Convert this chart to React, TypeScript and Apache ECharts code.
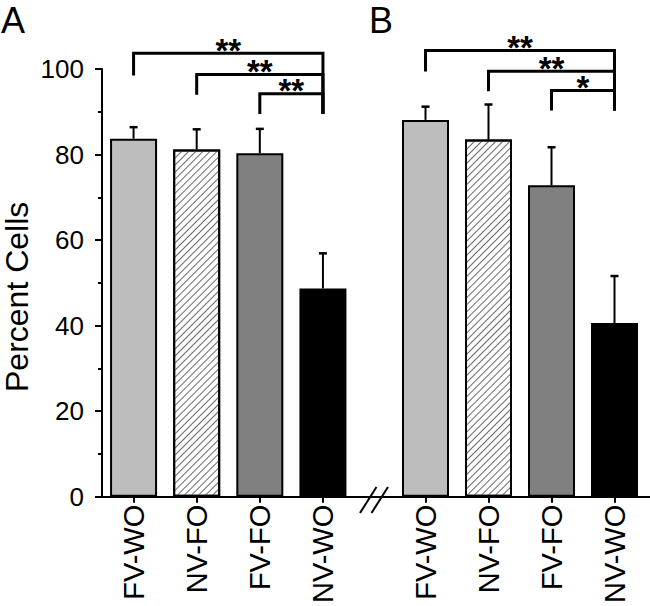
import React, { useEffect, useRef } from "react";
import * as echarts from "echarts";

const categories = ["FV-WO", "NV-FO", "FV-FO", "NV-WO"];
const valuesA = [83.7, 81.2, 80.3, 48.7];
const errorsA = [2.7, 4.7, 5.7, 8.2];
const valuesB = [88.1, 83.5, 72.8, 40.6];
const errorsB = [3.1, 8.2, 8.9, 11.0];
const barColors = ["#bdbdbd", "#ffffff", "#808080", "#000000"];
// [leftIndex, rightIndex, topValue, leftBottomValue, rightBottomValue]
const bracketsA = [
  [0, 3, 103.7, 98.5, 89.5],
  [1, 3, 98.7, 94.0, 89.5],
  [2, 3, 94.2, 89.5, 89.5],
];
const starsA = ["**", "**", "**"];
const bracketsB = [
  [0, 3, 104.3, 99.4, 90.3],
  [1, 3, 99.5, 94.8, 90.3],
  [2, 3, 95.0, 90.3, 90.3],
];
const starsB = ["**", "**", "*"];
const yMin = 0;
const yMax = 100;
const yInterval = 20;
const panelLetters = ["A", "B"];

const FONT = "'Liberation Sans', Arial, Helvetica, sans-serif";

function barData(values: number[]) {
  return values.map((v, i) => {
    const item: any = {
      value: v,
      itemStyle: { color: barColors[i], borderColor: "#000", borderWidth: 2 },
    };
    if (i === 1) {
      item.itemStyle.decal = {
        symbol: "rect",
        symbolSize: 1,
        dashArrayX: [1, 0],
        dashArrayY: [1, 3.5],
        rotation: -Math.PI / 4,
        color: "#6a6a6a",
        backgroundColor: "#ffffff",
      };
    }
    return item;
  });
}

function errorSeries(values: number[], errors: number[], idx: number) {
  return {
    type: "custom",
    xAxisIndex: idx,
    yAxisIndex: idx,
    clip: false,
    z: 5,
    data: values.map((v, i) => [i, v, errors[i]]),
    renderItem: (params: any, api: any) => {
      const x = api.value(0);
      const v = api.value(1);
      const e = api.value(2);
      const p0 = api.coord([x, v]);
      const p1 = api.coord([x, v + e]);
      return {
        type: "group",
        children: [
          {
            type: "line",
            shape: { x1: p0[0], y1: p0[1], x2: p1[0], y2: p1[1] },
            style: { stroke: "#000", lineWidth: 2 },
          },
          {
            type: "line",
            shape: { x1: p1[0] - 4, y1: p1[1], x2: p1[0] + 4, y2: p1[1] },
            style: { stroke: "#000", lineWidth: 2.5 },
          },
        ],
      };
    },
  };
}

function bracketSeries(brackets: number[][], stars: string[], idx: number) {
  return {
    type: "custom",
    xAxisIndex: idx,
    yAxisIndex: idx,
    clip: false,
    z: 6,
    data: brackets.map((b, i) => [...b, i]),
    renderItem: (params: any, api: any) => {
      const l = api.value(0);
      const r = api.value(1);
      const top = api.value(2);
      const lb = api.value(3);
      const rb = api.value(4);
      const si = api.value(5);
      const pLB = api.coord([l, lb]);
      const pLT = api.coord([l, top]);
      const pRT = api.coord([r, top]);
      const pRB = api.coord([r, rb]);
      return {
        type: "group",
        children: [
          {
            type: "polyline",
            shape: { points: [pLB, pLT, pRT, pRB] },
            style: { stroke: "#000", lineWidth: 3, fill: "none" },
          },
          {
            type: "text",
            style: {
              text: stars[si],
              x: (pLT[0] + pRT[0]) / 2,
              y: pLT[1] - 3,
              align: "center",
              verticalAlign: "middle",
              textAlign: "center",
              textVerticalAlign: "middle",
              fontSize: 33,
              fontWeight: "bold",
              fontFamily: FONT,
              fill: "#000",
            },
          },
        ],
      };
    },
  };
}

export default function App() {
  const ref = useRef<HTMLDivElement>(null);
  useEffect(() => {
    document.body.style.margin = "0";
    if (!ref.current) return;
    const chart = echarts.init(ref.current, null, { renderer: "svg" });
    const xAxisBase = {
      type: "category",
      data: categories,
      boundaryGap: true,
      axisLine: { show: true, lineStyle: { color: "#000", width: 2 } },
      axisTick: { show: true, alignWithLabel: true, length: 6, lineStyle: { color: "#000", width: 2 } },
      axisLabel: { rotate: 90, margin: 8, fontSize: 29, color: "#000", fontFamily: FONT },
      splitLine: { show: false },
    };
    const option: any = {
      animation: false,
      backgroundColor: "#ffffff",
      grid: [
        { left: 100, top: 69, width: 254.5, height: 428, containLabel: false },
        { left: 394, top: 69, width: 252, height: 428, containLabel: false },
      ],
      xAxis: [
        { ...xAxisBase, gridIndex: 0 },
        { ...xAxisBase, gridIndex: 1 },
      ],
      yAxis: [
        {
          type: "value",
          gridIndex: 0,
          min: yMin,
          max: yMax,
          interval: yInterval,
          name: "Percent Cells",
          nameLocation: "middle",
          nameGap: 69,
          nameTextStyle: { fontSize: 32, color: "#000", fontFamily: FONT, padding: [0, 28, 0, 0] },
          axisLine: { show: true, lineStyle: { color: "#000", width: 2 } },
          axisTick: { show: true, length: 7, lineStyle: { color: "#000", width: 2 } },
          minorTick: { show: true, splitNumber: 2, length: 4, lineStyle: { color: "#000", width: 2 } },
          axisLabel: { margin: 18, fontSize: 26, color: "#000", fontFamily: FONT },
          splitLine: { show: false },
        },
        {
          type: "value",
          gridIndex: 1,
          min: yMin,
          max: yMax,
          interval: yInterval,
          show: false,
          splitLine: { show: false },
        },
      ],
      series: [
        {
          type: "bar",
          xAxisIndex: 0,
          yAxisIndex: 0,
          barWidth: 47,
          data: barData(valuesA),
        },
        {
          type: "bar",
          xAxisIndex: 1,
          yAxisIndex: 1,
          barWidth: 47,
          data: barData(valuesB),
        },
        errorSeries(valuesA, errorsA, 0),
        errorSeries(valuesB, errorsB, 1),
        bracketSeries(bracketsA, starsA, 0),
        bracketSeries(bracketsB, starsB, 1),
      ],
      graphic: [
        {
          type: "text",
          left: 1,
          top: 2,
          style: { text: panelLetters[0], fontSize: 36, fontFamily: FONT, fill: "#000" },
        },
        {
          type: "text",
          left: 369,
          top: 2,
          style: { text: panelLetters[1], fontSize: 36, fontFamily: FONT, fill: "#000" },
        },
        {
          type: "line",
          shape: { x1: 353, y1: 497, x2: 396, y2: 497 },
          style: { stroke: "#000", lineWidth: 2 },
        },
        {
          type: "line",
          shape: { x1: 644, y1: 497, x2: 650, y2: 497 },
          style: { stroke: "#000", lineWidth: 2 },
        },
        {
          type: "line",
          shape: { x1: 360, y1: 513, x2: 376.5, y2: 487 },
          style: { stroke: "#000", lineWidth: 2 },
          z: 10,
        },
        {
          type: "line",
          shape: { x1: 371.5, y1: 513, x2: 388, y2: 487 },
          style: { stroke: "#000", lineWidth: 2 },
          z: 10,
        },
      ],
    };
    chart.setOption(option);
    return () => chart.dispose();
  }, []);
  return <div ref={ref} style={{ width: 650, height: 606 }} />;
}
